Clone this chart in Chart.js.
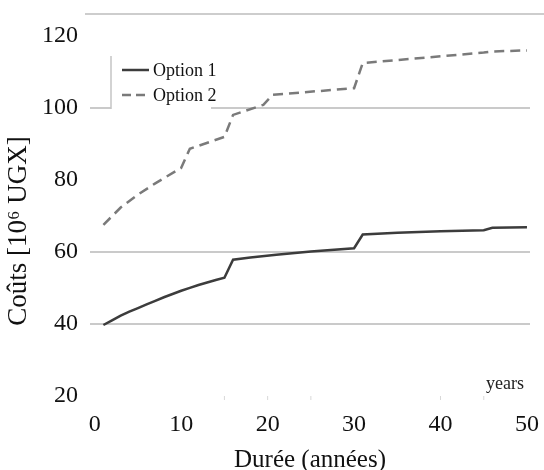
<!DOCTYPE html>
<html>
<head>
<meta charset="utf-8">
<script src="https://cdn.jsdelivr.net/npm/chart.js@4"></script>
<style>
  html, body { margin: 0; padding: 0; background: #fff; }
  #wrap { width: 544px; height: 470px; }
</style>
</head>
<body>
<div id="wrap"><canvas id="costChart" width="544" height="470"></canvas></div>
<script>
// values
const years1 = [1, 2, 3, 4, 5, 6, 7, 8, 9, 10, 11, 12, 13, 14, 15, 16, 18, 21, 25, 30, 31, 35, 40, 45, 46, 50];
const cost1 = [39.7, 41.0, 42.3, 43.4, 44.4, 45.4, 46.4, 47.4, 48.3, 49.2, 50.0, 50.8, 51.5, 52.2, 52.8, 57.8, 58.4, 59.2, 60.1, 61.0, 64.8, 65.3, 65.7, 66.0, 66.7, 66.8];

const years2 = [1, 3, 5, 7, 10, 11, 15, 16, 19.5, 20.6, 30, 31, 45, 46, 50];
const cost2 = [67.5, 72.3, 75.9, 79.0, 83.3, 88.6, 91.9, 98.0, 100.8, 103.6, 105.4, 112.4, 115.3, 115.6, 115.9];

const seriesNames = ['Option 1', 'Option 2'];
const xTicks = [0, 10, 20, 30, 40, 50];
const yTicks = [20, 40, 60, 80, 100, 120];
const yGridShown = [40, 60, 100];
const xMinorMarks = [15, 20, 25, 40, 45];
const yTitle = 'Coûts [10⁶ UGX]';

const serif = 'Liberation Serif';

function toPoints(xs, ys) {
    return xs.map((x, i) => ({ x: x, y: ys[i] }));
}

// top rule, faint marks, y title, "years" note and the boxed legend
const decorPlugin = {
    id: 'decor',
    afterDraw(chart) {
        const ctx = chart.ctx;
        const area = chart.chartArea;
        const xs = chart.scales.x;
        ctx.save();

        ctx.strokeStyle = '#bdbdbd';
        ctx.lineWidth = 1.5;
        ctx.beginPath();
        ctx.moveTo(85, area.top);
        ctx.lineTo(chart.width, area.top);
        ctx.stroke();

        ctx.strokeStyle = '#d8d8d8';
        ctx.lineWidth = 1;
        xMinorMarks.forEach(v => {
            const px = xs.getPixelForValue(v);
            ctx.beginPath();
            ctx.moveTo(px, area.bottom);
            ctx.lineTo(px, area.bottom + 4);
            ctx.stroke();
        });

        // y axis title, sits a bit below the middle like the original
        ctx.save();
        ctx.translate(19, 231);
        ctx.rotate(-Math.PI / 2);
        ctx.fillStyle = '#111';
        ctx.font = '27px "' + serif + '"';
        ctx.textAlign = 'center';
        ctx.textBaseline = 'middle';
        ctx.fillText(yTitle, 0, 0);
        ctx.restore();

        ctx.fillStyle = '#222';
        ctx.font = '18px "' + serif + '"';
        ctx.textAlign = 'center';
        ctx.textBaseline = 'middle';
        ctx.fillText('years', 505, 384);

        // legend
        ctx.fillStyle = '#fff';
        ctx.fillRect(111, 55, 100, 58);
        ctx.strokeStyle = '#c4c4c4';
        ctx.lineWidth = 1.5;
        ctx.beginPath();
        ctx.moveTo(111, 56);
        ctx.lineTo(111, 109);
        ctx.stroke();

        const rows = [
            { y: 70, color: '#3c3c3c', dash: [] },
            { y: 95, color: '#7a7a7a', dash: [9, 5] }
        ];
        rows.forEach((r, i) => {
            ctx.strokeStyle = r.color;
            ctx.lineWidth = 2.5;
            ctx.setLineDash(r.dash);
            ctx.beginPath();
            ctx.moveTo(122, r.y);
            ctx.lineTo(149, r.y);
            ctx.stroke();
            ctx.setLineDash([]);
            ctx.fillStyle = '#111';
            ctx.font = '18px "' + serif + '"';
            ctx.textAlign = 'left';
            ctx.textBaseline = 'middle';
            ctx.fillText(seriesNames[i], 153, r.y + 1);
        });

        ctx.restore();
    }
};

new Chart(document.getElementById('costChart').getContext('2d'), {
    type: 'line',
    data: {
        datasets: [{
            label: seriesNames[0],
            data: toPoints(years1, cost1),
            borderColor: '#3c3c3c',
            borderWidth: 2.5,
            pointRadius: 0,
            tension: 0,
            fill: false
        }, {
            label: seriesNames[1],
            data: toPoints(years2, cost2),
            borderColor: '#7a7a7a',
            borderWidth: 2.5,
            borderDash: [10, 6],
            pointRadius: 0,
            tension: 0,
            fill: false
        }]
    },
    options: {
        responsive: false,
        animation: false,
        layout: { padding: { top: 14, right: 14, left: 0, bottom: 0 } },
        plugins: {
            legend: { display: false },
            tooltip: { enabled: false }
        },
        scales: {
            x: {
                type: 'linear',
                min: -0.55,
                max: 50.35,
                afterBuildTicks: scale => {
                    scale.ticks = xTicks.map(v => ({ value: v }));
                },
                afterFit: scale => {
                    scale.height = 74;
                    scale.paddingLeft = 0;
                    scale.paddingRight = 0;
                },
                grid: { display: false },
                border: { display: false },
                ticks: {
                    padding: 6,
                    color: '#111',
                    font: { family: serif, size: 24 }
                },
                title: {
                    display: true,
                    text: 'Durée (années)',
                    color: '#111',
                    font: { family: serif, size: 25, lineHeight: 0.8 },
                    padding: { top: 0, bottom: 0 }
                }
            },
            y: {
                min: 20,
                max: 126,
                afterBuildTicks: scale => {
                    scale.ticks = yTicks.map(v => ({ value: v }));
                },
                afterFit: scale => {
                    scale.width = 90;
                    scale.paddingTop = 0;
                    scale.paddingBottom = 0;
                },
                grid: {
                    drawTicks: false,
                    lineWidth: 2,
                    color: c => yGridShown.includes(c.tick && c.tick.value) ? '#cacaca' : 'rgba(0,0,0,0)'
                },
                border: { display: false },
                ticks: {
                    padding: 12,
                    color: '#111',
                    font: { family: serif, size: 24 }
                }
            }
        }
    },
    plugins: [decorPlugin]
});
</script>
</body>
</html>
